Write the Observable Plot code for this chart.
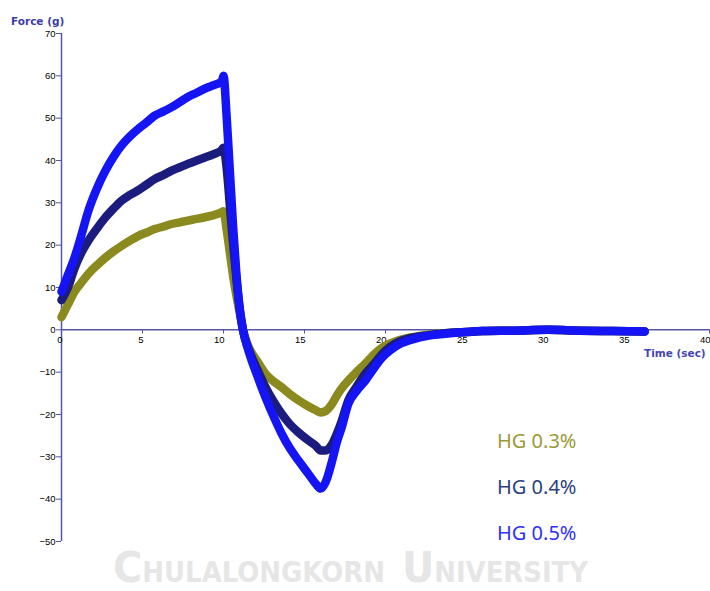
<!DOCTYPE html>
<html>
<head>
<meta charset="utf-8">
<script src="https://cdn.jsdelivr.net/npm/d3@7"></script>
<script src="https://cdn.jsdelivr.net/npm/@observablehq/plot@0.6"></script>
<style>
  html, body { margin: 0; padding: 0; background: #fff; }
  #chart { position: relative; width: 710px; height: 591px; overflow: hidden; }
</style>
</head>
<body>
<div id="chart"></div>
<script>
// ---- data ----
const seriesNames = ["HG 0.3%", "HG 0.4%", "HG 0.5%"];
const seriesColors = ["#8a8a1e", "#1c1c7e", "#1414f5"];
const legendColors = ["#9a9a36", "#2c3f7e", "#3030ff"];

const timeSec = [0, 0.4, 0.8, 1.2, 1.65, 2.2, 2.7, 3.2, 3.7, 4.2, 4.75, 5.25, 5.75, 6.3, 6.8, 7.3, 7.8, 8.35, 8.85, 9.4, 9.9, 10.0, 10.2, 10.4, 10.6, 10.8, 11.0, 11.2, 11.55, 12.1, 12.6, 13.1, 13.6, 14.1, 14.65, 15.2, 15.7, 16.0, 16.3, 16.7, 17.0, 17.3, 17.7, 18.2, 18.75, 19.3, 19.8, 20.3, 20.85, 21.4, 21.9, 23, 24, 25, 26, 28, 30, 32, 34, 36];

const hg03 = [3, 6, 9, 11, 13.2, 15.3, 17, 18.5, 19.8, 21, 22.2, 23, 23.8, 24.4, 25, 25.4, 25.8, 26.2, 26.6, 27.1, 27.8, 28, 23.5, 18, 12.5, 8, 4, 0, -4, -7.5, -10.4, -12.2, -13.6, -15.2, -16.7, -18, -19, -19.5, -19.2, -17.5, -15.5, -13.8, -12, -10, -8, -5.8, -4.2, -3.2, -2.4, -1.9, -1.6, -1.0, -0.7, -0.5, -0.3, -0.2, 0, -0.2, -0.3, -0.4];

const hg04 = [7, 10, 14.5, 18, 21, 24, 26.5, 28.6, 30.5, 31.8, 33, 34.3, 35.6, 36.6, 37.6, 38.4, 39.2, 40, 40.7, 41.5, 42.5, 43, 38, 29, 20, 12, 5, 0, -4.5, -9.5, -13.6, -17, -19.9, -22.3, -24.3, -26, -27.4, -28.5, -28.5, -27, -24.5, -21.5, -16.7, -13.5, -10.4, -8, -5.7, -4, -2.8, -2.1, -1.7, -1.1, -0.7, -0.5, -0.3, -0.2, 0, -0.2, -0.3, -0.4];

const hg05 = [9, 13, 17, 22, 28, 33.5, 37.5, 40.8, 43.5, 45.6, 47.5, 49, 50.6, 51.6, 52.6, 53.8, 55, 56, 57, 57.8, 58.7, 60, 50, 37, 24, 13, 5, 0, -5, -11, -16, -20.5, -24.6, -28, -31, -33.8, -36.4, -37.5, -36, -31, -26.5, -23, -17.5, -14.5, -12, -9, -6.5, -4.8, -3.4, -2.6, -2, -1.2, -0.8, -0.5, -0.3, -0.2, 0, -0.2, -0.3, -0.4];

const xTicks = [0, 5, 10, 15, 20, 25, 30, 35, 40];
const yTicks = [70, 60, 50, 40, 30, 20, 10, 0, -10, -20, -30, -40, -50];

// ---- build table ----
const allValues = [hg03, hg04, hg05];
const rows = allValues.map((vals, k) =>
  timeSec.map((t, i) => ({ t, v: vals[i], s: seriesNames[k] }))
);

const axisColor = "#5656a6";
const tickFont = "Liberation Sans, Arial, sans-serif";

const plot = Plot.plot({
  width: 710,
  height: 591,
  marginTop: 33,
  marginBottom: 50,
  marginLeft: 61,
  marginRight: 1,
  x: { domain: [0, 40], axis: null },
  y: { domain: [-50, 70], axis: null },
  style: { background: "#fff", fontFamily: tickFont, fontSize: "9px", overflow: "visible" },
  marks: [
    Plot.axisY(yTicks, { label: null, tickSize: 5, tickPadding: 1, stroke: axisColor, fill: "#000", fontSize: 9.5 }),
    Plot.ruleX([0], { y1: -50, y2: 70, stroke: axisColor, strokeWidth: 1.5 }),
    Plot.ruleY([0], { x1: 0, x2: 40, stroke: axisColor, strokeWidth: 1.5 }),
    Plot.ruleX(xTicks, { x: d => d, y1: 0, y2: -1, stroke: axisColor }),
    Plot.text(xTicks, { x: d => d, y: 0, text: d => String(d), dy: 10, dx: 1, textAnchor: "end", fill: "#000", fontSize: 9.5 }),
    ...rows.map((data, k) =>
      Plot.line(data, { x: "t", y: "v", stroke: seriesColors[k], strokeWidth: 8.5, curve: "monotone-x", strokeLinejoin: "round" })
    )
  ]
});

document.getElementById("chart").appendChild(plot);

const svg = d3.select(plot);

// axis titles
svg.append("text").attr("x", 11).attr("y", 25).attr("text-anchor", "start")
  .attr("font-family", "DejaVu Sans, Verdana, sans-serif").attr("font-weight", "bold")
  .attr("font-size", 10.5).attr("fill", "#3c3ca6").text("Force (g)");
svg.append("text").attr("x", 644).attr("y", 357).attr("text-anchor", "start")
  .attr("font-family", "DejaVu Sans, Verdana, sans-serif").attr("font-weight", "bold")
  .attr("font-size", 10.5).attr("fill", "#4646b2").text("Time (sec)");

// legend
const legendY = [448, 494, 540];
seriesNames.forEach((name, k) => {
  svg.append("text").attr("x", 497).attr("y", legendY[k]).attr("text-anchor", "start")
    .attr("font-family", "Noto Sans, Open Sans, sans-serif")
    .attr("font-size", 20).attr("fill", legendColors[k]).text(name);
});

// watermark
const wm = svg.append("g").attr("fill", "#e6e6e6").attr("text-anchor", "start")
  .attr("font-family", "DejaVu Sans Condensed, DejaVu Sans, sans-serif").attr("font-weight", "bold");
const w1 = wm.append("text").attr("x", 113).attr("y", 582)
  .attr("textLength", 272).attr("lengthAdjust", "spacingAndGlyphs");
w1.append("tspan").attr("font-size", 43).text("C");
w1.append("tspan").attr("font-size", 28).text("HULALONGKORN");
const w2 = wm.append("text").attr("x", 402).attr("y", 582)
  .attr("textLength", 186).attr("lengthAdjust", "spacingAndGlyphs");
w2.append("tspan").attr("font-size", 43).text("U");
w2.append("tspan").attr("font-size", 28).text("NIVERSITY");
</script>
</body>
</html>
